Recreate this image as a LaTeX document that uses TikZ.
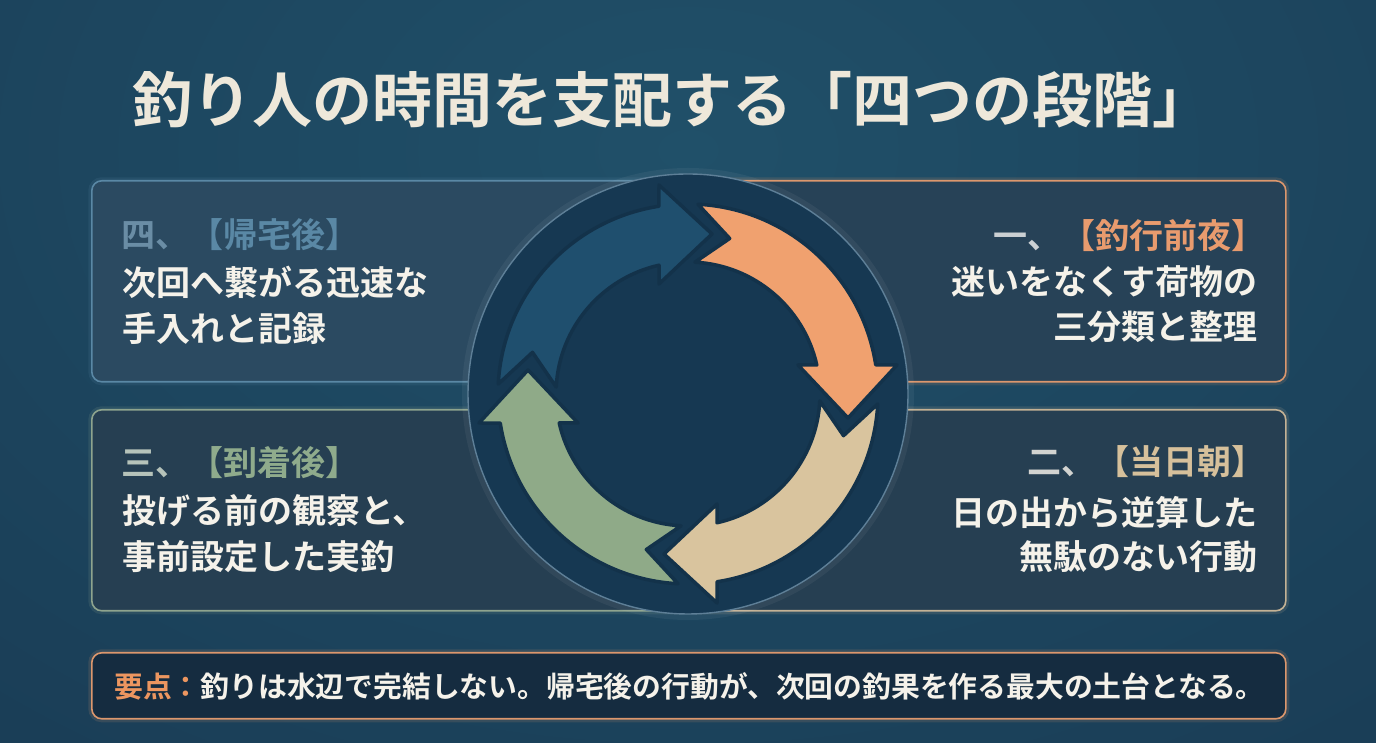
\documentclass[tikz,border=0pt]{standalone}
\usepackage{fontspec}
\newfontfamily\jpb{Noto Sans CJK JP Bold}
\definecolor{bgA}{HTML}{205069}
\definecolor{bgB}{HTML}{193A53}
\definecolor{bgC}{HTML}{0F2337}
\definecolor{titlecol}{HTML}{EEE8DA}
\definecolor{bodywhite}{HTML}{F5F2EA}
\definecolor{bFour}{HTML}{5A88A5}
\definecolor{fFour}{HTML}{2B4A61}
\definecolor{bOne}{HTML}{DC976D}
\definecolor{fOne}{HTML}{274257}
\definecolor{bThree}{HTML}{8EA48E}
\definecolor{fThree}{HTML}{263F52}
\definecolor{bTwo}{HTML}{C4B295}
\definecolor{fTwo}{HTML}{263F52}
\definecolor{fKey}{HTML}{152C40}
\definecolor{ringfill}{HTML}{163852}
\definecolor{ringrim}{HTML}{5E7F97}
\definecolor{arrowedge}{HTML}{13324A}
\definecolor{aBlue}{HTML}{1F4F6E}
\definecolor{aOrange}{HTML}{F0A16F}
\definecolor{aBeige}{HTML}{D9C49E}
\definecolor{aGreen}{HTML}{8FAA88}
\definecolor{nFour}{HTML}{6A8DA5}
\definecolor{nOne}{HTML}{CBD0D3}
\definecolor{nThree}{HTML}{B6C3BA}
\definecolor{nTwo}{HTML}{D2D3D0}
\definecolor{hOne}{HTML}{E89B6E}
\definecolor{hThree}{HTML}{8FAB8C}
\definecolor{hTwo}{HTML}{D6C09B}
\definecolor{keyor}{HTML}{EC9660}
\pgfdeclareradialshading{bgshade}{\pgfpoint{0bp}{0bp}}{color(0bp)=(bgA); color(30bp)=(bgB); color(50bp)=(bgC)}
\begin{document}
\begin{tikzpicture}[x=1pt,y=1pt,
  panel/.style={draw=#1, rounded corners=10pt, line width=1.6pt, inner sep=0pt,
    preaction={draw=#1, line width=7pt, draw opacity=0.15}},
  head/.style={font=\jpb\fontsize{34}{40}\selectfont, inner sep=0pt},
  body/.style={text=bodywhite, font=\jpb\fontsize{34}{40}\selectfont, inner sep=0pt},
  cyc/.pic={\filldraw[fill=#1, draw=arrowedge, line width=3.5pt, line join=round]
     (87:190pt) arc[start angle=87, end angle=8.8, radius=190pt]
     -- (209pt,29pt) -- (160pt,-24pt) -- (110pt,29pt) -- (128.8pt,29pt)
     arc[start angle=12.7, end angle=87, radius=132pt]
     -- (75:161pt) -- cycle;}
]
\useasboundingbox (0,0) rectangle (1376,743);
\begin{scope}
\clip (0,0) rectangle (1376,743);
\fill[bgC] (0,0) rectangle (1376,743);
\shade[shading=bgshade] (-412,-157) rectangle (1788,1343);
\end{scope}

% title
\node (title) [text=titlecol, font=\jpb\fontsize{60}{66}\selectfont, inner sep=0pt] at (672,643)
  {釣り人の時間を支配する「四つの段階」};

% panels
\node (p4) [panel=bFour, fill=fFour, minimum width=599, minimum height=201, anchor=north west] at (91,563) {};
\node (p1) [panel=bOne, fill=fOne, minimum width=599, minimum height=201, anchor=north west] at (686,563) {};
\node (p3) [panel=bThree, fill=fThree, minimum width=599, minimum height=201, anchor=north west] at (91,334) {};
\node (p2) [panel=bTwo, fill=fTwo, minimum width=599, minimum height=201, anchor=north west] at (686,334) {};
\node (key) [panel=bOne, fill=fKey, minimum width=1194, minimum height=66, anchor=north west] at (91,91) {};

% cycle disc
\node (ring) [circle, minimum size=440, inner sep=0pt, fill=ringfill, draw=ringrim, line width=1.4pt,
  preaction={draw=white, line width=12pt, draw opacity=0.05}] at (688,349) {};
\pic (aO) [rotate=0] at (ring.center) {cyc=aOrange};
\pic (aBe) [rotate=-90] at (ring.center) {cyc=aBeige};
\pic (aG) [rotate=180] at (ring.center) {cyc=aGreen};
\pic (aBl) [rotate=90] at (ring.center) {cyc=aBlue};

% panel texts
\node (h4) [head, anchor=west] at (121,508) {\textcolor{nFour}{四、}\textcolor{bFour}{【帰宅後】}};
\node (b4a) [body, anchor=west] at (122,461) {次回へ繋がる迅速な};
\node (b4b) [body, anchor=west] at (122,414) {手入れと記録};

\node (h1) [head, anchor=east] at (1266,507) {\textcolor{nOne}{一、}\textcolor{hOne}{【釣行前夜】}};
\node (b1a) [body, anchor=east] at (1258,461) {迷いをなくす荷物の};
\node (b1b) [body, anchor=east] at (1258,416) {三分類と整理};

\node (h3) [head, anchor=west] at (121,280) {\textcolor{nThree}{三、}\textcolor{hThree}{【到着後】}};
\node (b3a) [body, anchor=west] at (122,232) {投げる前の観察と、};
\node (b3b) [body, anchor=west] at (122,186) {事前設定した実釣};

\node (h2) [head, anchor=east] at (1266,281) {\textcolor{nTwo}{二、}\textcolor{hTwo}{【当日朝】}};
\node (b2a) [body, anchor=east] at (1258,231) {日の出から逆算した};
\node (b2b) [body, anchor=east] at (1258,186) {無駄のない行動};

\node (kt) [anchor=west, inner sep=0pt, text=bodywhite, font=\jpb\fontsize{28.8}{32}\selectfont] at (114,57)
  {\textcolor{keyor}{要点：}釣りは水辺で完結しない。帰宅後の行動が、次回の釣果を作る最大の土台となる。};
\end{tikzpicture}
\end{document}
